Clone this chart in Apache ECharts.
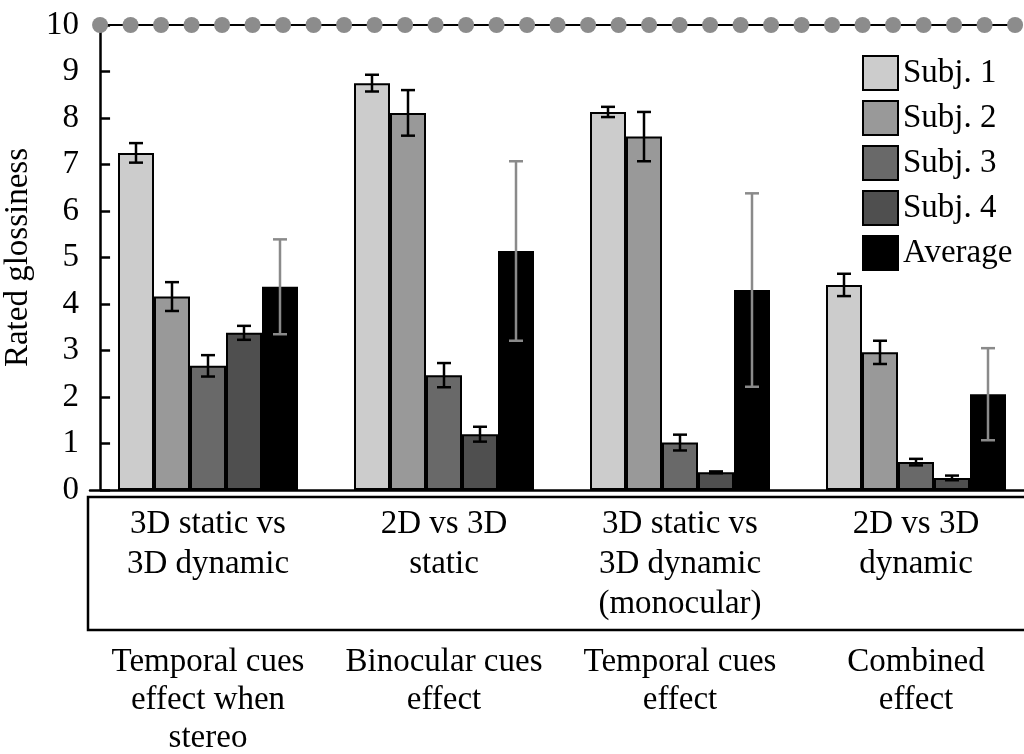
<!DOCTYPE html>
<html>
<head>
<meta charset="utf-8">
<script src="https://cdn.jsdelivr.net/npm/echarts@6/dist/echarts.min.js"></script>
<style>
  html, body { margin: 0; padding: 0; background: #fff; }
  #chart { width: 1024px; height: 754px; }
</style>
</head>
<body>
<div id="chart"></div>
<script>
  // data
  let comparisons = ['3D static vs\n3D dynamic', '2D vs 3D\nstatic', '3D static vs\n3D dynamic\n(monocular)', '2D vs 3D\ndynamic']
  let effects = ['Temporal cues\neffect when\nstereo', 'Binocular cues\neffect', 'Temporal cues\neffect', 'Combined\neffect']
  let subjects = ['Subj. 1', 'Subj. 2', 'Subj. 3', 'Subj. 4', 'Average']
  let subj1 = [7.25, 8.75, 8.13, 4.41]
  let subj2 = [4.16, 8.11, 7.60, 2.96]
  let subj3 = [2.67, 2.47, 1.02, 0.60]
  let subj4 = [3.38, 1.20, 0.38, 0.26]
  let average = [4.37, 5.14, 4.30, 2.06]
  let subj1Err = [0.21, 0.18, 0.11, 0.24]
  let subj2Err = [0.31, 0.49, 0.53, 0.25]
  let subj3Err = [0.23, 0.26, 0.17, 0.07]
  let subj4Err = [0.15, 0.16, 0.02, 0.05]
  let averageErr = [1.02, 1.93, 2.08, 0.99]
  let yTicks = [0, 1, 2, 3, 4, 5, 6, 7, 8, 9, 10]
  let ceilingValue = 10
  let ceilingDotCount = 31

  let values = [subj1, subj2, subj3, subj4, average]
  let errors = [subj1Err, subj2Err, subj3Err, subj4Err, averageErr]
  let fills = ['#cccccc', '#999999', '#696969', '#4f4f4f', '#000000']
  let font = 'Liberation Serif'
  let fs = 33
  let barW = 36

  let chart = echarts.init(document.getElementById('chart'))

  let series = []
  for (let i in subjects) {
    series.push({
      name: subjects[i],
      type: 'bar',
      xAxisIndex: 0,
      barWidth: barW,
      barGap: '0%',
      itemStyle: { color: fills[i], borderColor: '#000', borderWidth: 2 },
      emphasis: { disabled: true },
      data: values[i]
    })
  }

  // error bars for every bar
  let errData = []
  for (let s = 0; s < values.length; s++) {
    for (let c = 0; c < comparisons.length; c++) {
      errData.push([c, values[s][c], errors[s][c], s])
    }
  }
  series.push({
    type: 'custom',
    xAxisIndex: 0,
    z: 5,
    silent: true,
    data: errData,
    renderItem: function (params, api) {
      let c = api.value(0), v = api.value(1), e = api.value(2), s = api.value(3)
      let mid = api.coord([c, v])
      let x = mid[0] + (s - 2) * barW
      let top = api.coord([c, v + e])[1]
      let bot = api.coord([c, v - e])[1]
      let col = s == 4 ? '#8a8a8a' : '#000'
      let w = 7
      let st = { stroke: col, lineWidth: 2.5 }
      return {
        type: 'group',
        children: [
          { type: 'line', shape: { x1: x, y1: top, x2: x, y2: bot }, style: st },
          { type: 'line', shape: { x1: x - w, y1: top, x2: x + w, y2: top }, style: st },
          { type: 'line', shape: { x1: x - w, y1: bot, x2: x + w, y2: bot }, style: st }
        ]
      }
    }
  })

  // dotted ceiling line at 10
  let dots = []
  for (let k = 0; k < ceilingDotCount; k++) dots.push([k, ceilingValue])
  series.push({
    type: 'line',
    xAxisIndex: 2,
    z: 6,
    silent: true,
    symbol: 'circle',
    symbolSize: 16,
    lineStyle: { color: '#000', width: 2 },
    itemStyle: { color: '#8c8c8c', borderWidth: 0 },
    data: dots
  })

  let option = {
    animation: false,
    textStyle: { fontFamily: font },
    grid: { left: 90, right: -10, top: 25, bottom: 264, outerBoundsMode: 'none' },
    legend: {
      data: subjects,
      orient: 'vertical',
      left: 857,
      top: 50,
      itemWidth: 35,
      itemHeight: 34,
      itemGap: 9,
      icon: 'rect',
      textStyle: { fontFamily: font, fontSize: fs, color: '#000' }
    },
    xAxis: [
      {
        type: 'category',
        data: comparisons,
        axisLine: { lineStyle: { color: '#000', width: 2.5 } },
        axisTick: { show: false },
        axisLabel: { fontFamily: font, fontSize: fs, color: '#000', lineHeight: 40, margin: 14, verticalAlign: 'top', interval: 0 }
      },
      {
        type: 'category',
        data: effects,
        position: 'bottom',
        axisLine: { show: false },
        axisTick: { show: false },
        axisLabel: { fontFamily: font, fontSize: fs, color: '#000', lineHeight: 38, margin: 153, verticalAlign: 'top', interval: 0 }
      },
      {
        type: 'value',
        show: false,
        min: -0.33,
        max: 30.62
      }
    ],
    yAxis: {
      type: 'value',
      min: 0,
      max: 10,
      interval: 1,
      name: 'Rated glossiness',
      nameLocation: 'middle',
      nameGap: 50,
      nameTextStyle: { fontFamily: font, fontSize: fs, color: '#000' },
      axisLine: { show: true, lineStyle: { color: '#000', width: 2.5 } },
      axisTick: { show: true, inside: true, length: 10, lineStyle: { color: '#000', width: 2.5 } },
      axisLabel: { fontFamily: font, fontSize: fs, color: '#000', margin: 11,
        formatter: function (v) { return yTicks.indexOf(v) >= 0 ? String(v) : '' } },
      splitLine: { show: false }
    },
    graphic: [
      {
        type: 'polyline',
        silent: true,
        shape: { points: [[1030, 497], [88, 497], [88, 630], [1030, 630]] },
        style: { fill: null, stroke: '#000', lineWidth: 2.5 }
      }
    ],
    series: series
  }
  chart.setOption(option)
</script>
</body>
</html>
